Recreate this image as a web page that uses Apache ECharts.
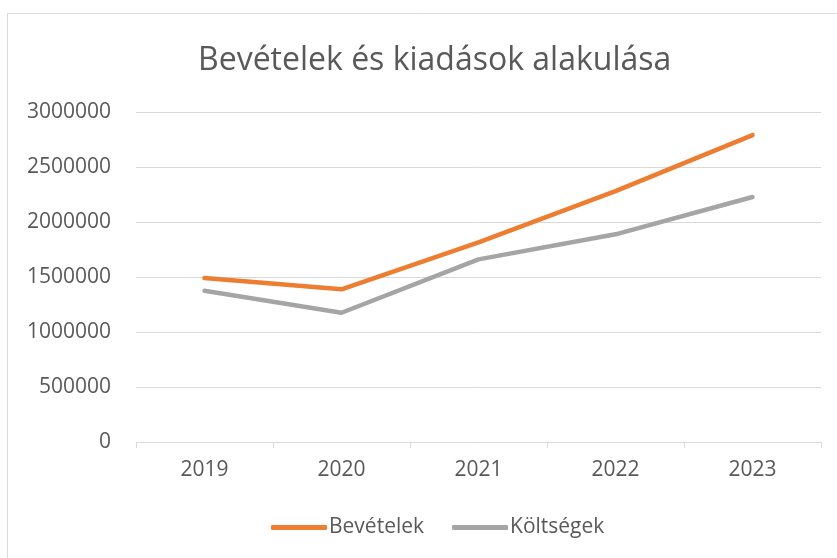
<!DOCTYPE html>
<html><head><meta charset="utf-8">
<script src="https://cdn.jsdelivr.net/npm/echarts@6/dist/echarts.min.js"></script>
<style>html,body{margin:0;padding:0;background:#fff}#c{width:837px;height:558px}</style>
</head><body><div id="c"></div>
<script>
const categories = ['2019', '2020', '2021', '2022', '2023'];
const bevetelek = [1490000, 1388000, 1815000, 2280000, 2790000];
const koltsegek = [1375000, 1175000, 1660000, 1888000, 2227000];
const yTicks = [0, 500000, 1000000, 1500000, 2000000, 2500000, 3000000];

const font = 'Open Sans';
const chart = echarts.init(document.getElementById('c'));
chart.setOption({
  animation: false,
  graphic: [{type: 'rect', shape: {x: 7.5, y: 13.5, width: 840, height: 560}, style: {fill: 'none', stroke: '#d9d9d9', lineWidth: 1}}],
  title: {text: 'Bevételek és kiadások alakulása', left: 193, top: 40,
    textStyle: {fontFamily: font, fontSize: 32, fontWeight: 'normal', color: '#595959'}},
  grid: {left: 136, right: 16, top: 112, bottom: 116},
  legend: {bottom: 15, left: 266, itemWidth: 56, itemHeight: 5, itemGap: 28, icon: 'roundRect',
    textStyle: {fontFamily: font, fontSize: 21, color: '#595959', padding: [0, 0, 0, -3]},
    data: ['Bevételek', 'Költségek']},
  xAxis: {type: 'category', data: categories, boundaryGap: true,
    axisLine: {lineStyle: {color: '#d9d9d9', width: 1}},
    axisTick: {show: true, length: 6, lineStyle: {color: '#d9d9d9'}},
    axisLabel: {fontFamily: font, fontSize: 21, color: '#595959', margin: 18}},
  yAxis: {type: 'value', min: yTicks[0], max: yTicks[yTicks.length - 1], interval: 500000,
    axisLine: {show: false}, axisTick: {show: false},
    splitLine: {lineStyle: {color: '#d9d9d9', width: 1}},
    axisLabel: {fontFamily: font, fontSize: 21, color: '#595959', margin: 25,
      formatter: v => String(v)}},
  series: [
    {name: 'Bevételek', type: 'line', data: bevetelek, symbol: 'none', color: '#ED7D31',
     lineStyle: {width: 4.5, cap: 'round', join: 'round'}},
    {name: 'Költségek', type: 'line', data: koltsegek, symbol: 'none', color: '#A5A5A5',
     lineStyle: {width: 4.5, cap: 'round', join: 'round'}}
  ]
});
</script></body></html>
